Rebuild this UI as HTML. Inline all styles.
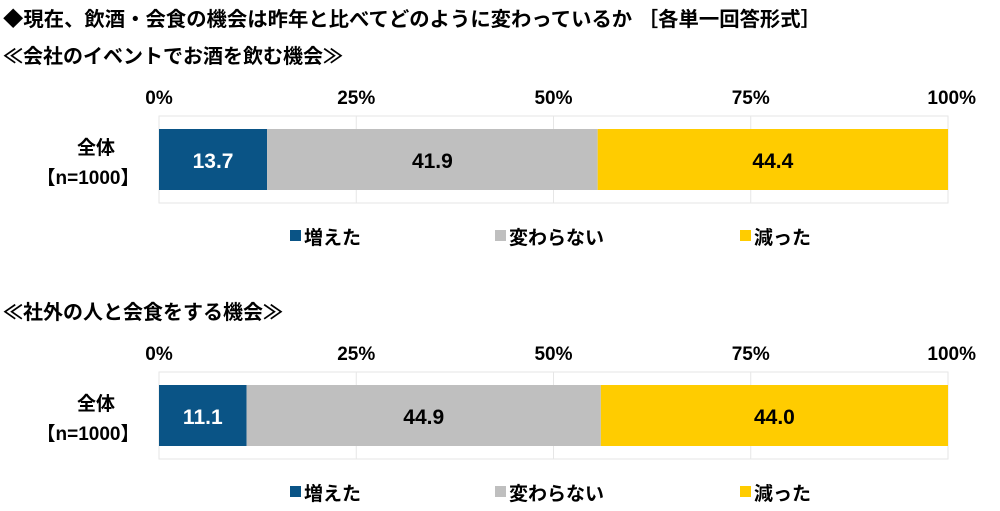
<!DOCTYPE html>
<html><head><meta charset="utf-8">
<style>
body{margin:0;background:#fff;width:1000px;height:506px;overflow:hidden;font-family:"Liberation Sans","Noto Sans CJK JP",sans-serif;}
svg text{font-family:"Liberation Sans","Noto Sans CJK JP",sans-serif;font-weight:bold;}
</style></head><body>
<svg id="chart" width="1000" height="506">
<text x="3" y="26" font-size="20" fill="#000" textLength="818" lengthAdjust="spacingAndGlyphs">◆現在、飲酒・会食の機会は昨年と比べてどのように変わっているか ［各単一回答形式］</text>
</svg>
<script>
const categories = ["増えた","変わらない","減った"];
const colors = ["#0a5486","#bfbfbf","#ffcc00"];
const panelTitles = ["≪会社のイベントでお酒を飲む機会≫","≪社外の人と会食をする機会≫"];
const panel1Values = [13.7,41.9,44.4];
const panel2Values = [11.1,44.9,44.0];
const tickLabels = ["0%","25%","50%","75%","100%"];
const tickValues = [0,25,50,75,100];
const rowLabel = ["全体","【n=1000】"];
const panels=[panel1Values,panel2Values];
const svg=document.getElementById('chart');
const NS="http://www.w3.org/2000/svg";
const X0=159, X1=948;
const xs=v=>X0+(X1-X0)*v/100;
function mk(tag,attrs,parent){const e=document.createElementNS(NS,tag);for(const k in attrs)e.setAttribute(k,attrs[k]);(parent||svg).appendChild(e);return e;}
const offsets=[0,256];
panels.forEach((vals,p)=>{
  const o=offsets[p];
  const g=mk('g',{});
  
  
  const t=mk('text',{x:3,y:63+o,'font-size':20,fill:'#000'},g);t.textContent=panelTitles[p];
  
  
  const frame=mk('rect',{x:X0,y:116+o,width:X1-X0,height:87,fill:'none',stroke:'#e6e6e6','stroke-width':1},g);
  
  
  tickValues.forEach((tv,i)=>{
    if(tv>0&&tv<100){const gl=mk('line',{x1:xs(tv),x2:xs(tv),y1:116+o,y2:203+o,stroke:'#e6e6e6'},g);
      
      }
    const anchor=i==tickValues.length-1?'end':'middle';
    const tx=i==tickValues.length-1?xs(tv)+28:xs(tv);
    const tl=mk('text',{x:tx,y:104+o,'font-size':19,'text-anchor':anchor,fill:'#000'},g);tl.textContent=tickLabels[i];
    
    
  });
  const l1=mk('text',{x:96,y:154+o,'font-size':19,'text-anchor':'middle'},g);l1.textContent=rowLabel[0];
  
  
  const l2=mk('text',{x:88,y:184+o,'font-size':19,'text-anchor':'middle'},g);l2.textContent=rowLabel[1];
  
  
  let cum=0;
  vals.forEach((v,i)=>{
    const r=mk('rect',{x:xs(cum),y:129+o,width:xs(cum+v)-xs(cum),height:61,fill:colors[i]},g);
    
    
    const lbl=mk('text',{x:(xs(cum)+xs(cum+v))/2,y:168+o,'font-size':21,'text-anchor':'middle',fill:i==0?'#fff':'#000'},g);
    lbl.textContent=v.toFixed(1);
    
    
    cum+=v;
  });
  const lx=[290,495,740];
  categories.forEach((c,i)=>{
    const sq=mk('rect',{x:lx[i],y:230+o,width:11,height:11,fill:colors[i]},g);
    
    
    const lt=mk('text',{x:lx[i]+14,y:244+o,'font-size':19,fill:'#000'},g);lt.textContent=c;
    
    
  });
});
</script>
</body></html>
